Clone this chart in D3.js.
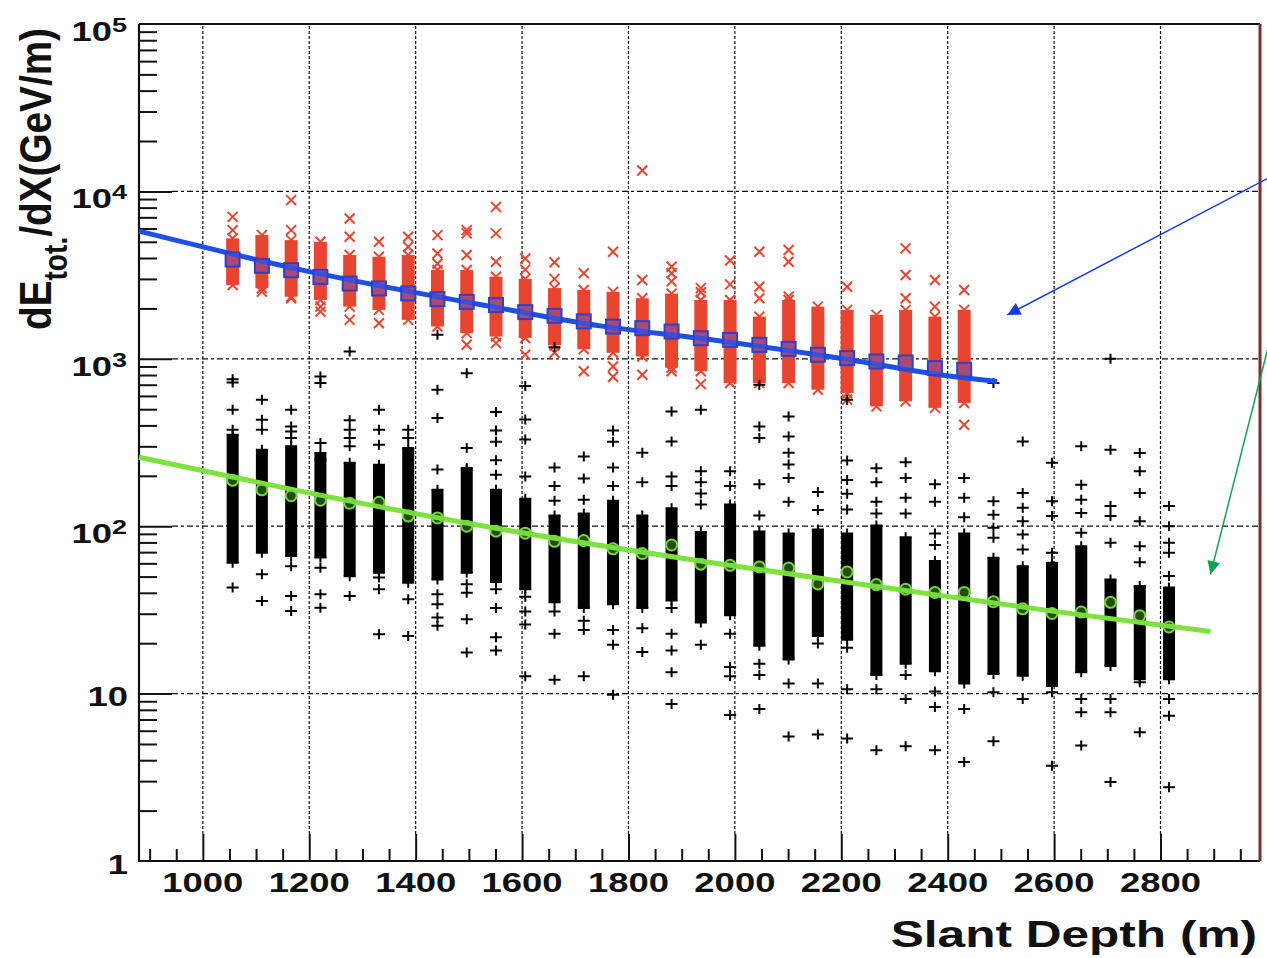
<!DOCTYPE html>
<html lang="en">
<head>
<meta charset="UTF-8">
<title>dE/dX vs Slant Depth</title>
<script src="https://d3js.org/d3.v7.min.js"></script>
<style>
  body { margin: 0; background: #fff; }
  text { font-family: "Liberation Sans", Arial, Helvetica, sans-serif; font-weight: bold; fill: #111; }
</style>
</head>
<body>
<div id="chart"></div>
<script>
// bin centres along slant depth (m)
const depths = [1056, 1111, 1166, 1221, 1276, 1331, 1386, 1441, 1496, 1551, 1606, 1661, 1716,
  1771, 1826, 1881, 1936, 1991, 2046, 2101, 2156, 2211, 2266, 2321, 2376, 2431, 2486, 2541,
  2596, 2651, 2706, 2761, 2816];

// red (x markers): dense band per bin plus stray points, GeV/m
const redLo = [2761, 2638, 2351, 2247, 2050, 1959, 1708, 1558, 1423, 1358, 1332, 1202, 1143,
  1086, 1032, 886, 843, 717, 717, 717, 654, 625, 520, 557, 509, 545];
const redHi = [5240, 5483, 5117, 5000, 4168, 4070, 4168, 3391, 3391, 3094, 3002, 2645, 2577,
  2511, 2300, 2450, 2247, 2247, 1787, 2247, 2050, 1959, 1829, 1959, 1787, 1959];
const redOut = [[7047, 5873], [2518], [8865, 5873, 2300], [2050, 1914], [6895, 5355, 1708],
  [5000, 1632], [5355, 4670], [5483, 4257, 3700], [5873, 5611, 4168, 1212], [8083, 5611, 3801, 1241],
  [3972, 3410, 1059], [3775, 3002, 1086], [3241, 843], [4359, 900, 781], [13340, 2957, 803],
  [3548, 3241, 2900, 843], [2645, 2500, 706], [3869, 2784], [4359, 2697, 2300], [4462, 3801, 2351],
  [], [2697, 570], [], [4567, 3167, 2300], [2957, 2050], [2577, 404]];
// blue squares (bin means) and fitted curve
const blueMean = [3917, 3592, 3384, 3084, 2816, 2631, 2456, 2271, 2188, 2093, 1901, 1807, 1673,
  1557, 1524, 1455, 1328, 1298, 1211, 1147, 1057, 1010, 964, 951, 880, 860];
const blueFitX = [880, 1183, 1559, 1747, 1935, 2198, 2399, 2493];
const blueFitY = [5790, 3410, 2005, 1573, 1325, 1007, 792, 732];

// black (+ markers): dense band per bin plus stray points
const blackLo = [60.5, 69.4, 66.3, 65, 50.3, 52.8, 46.0, 48.1, 52.8, 46.4, 42, 35.1, 32.5, 34.2,
  32.5, 36.0, 26.6, 29.4, 19.3, 16.0, 22.1, 21.0, 12.9, 15.1, 13.6, 11.5, 13.1, 12.8, 11.1, 13.4,
  14.6, 12.2, 12.2];
const blackHi = [352, 286, 300, 274, 239, 233, 293, 165, 218, 165, 146, 116, 119, 142, 116, 128,
  92.2, 135, 93.1, 90.6, 95.6, 90.6, 101, 85.9, 62.0, 90.6, 64.8, 57.7, 60.5, 76.0, 48.1, 43.9, 43.0];
const blackOut = [
  [756, 721, 496, 377, 43.0], [569, 432, 377, 51.6, 35.7], [496, 394, 368, 336, 57.7, 38.3, 31.1],
  [783, 716, 314, 250, 56.5, 39.2, 32.6], [1105, 430, 377, 336, 300, 38.3], [496, 377, 307, 49.3, 42.0, 22.6],
  [377, 336, 36.6, 22.1], [1390, 653, 443, 218, 39.2, 34.2, 28.5, 25.4], [821, 293, 223, 45.0, 40.1, 27.8, 17.6],
  [481, 373, 320, 248, 203, 42.0, 32.5, 21.7, 18.1], [687, 434, 329, 198, 37.9, 30.9, 25.9, 12.7],
  [1172, 224, 174, 142, 30.9, 22.8, 12.1], [261, 193, 144, 27.2, 24.0, 12.7],
  [373, 320, 224, 174, 24.0, 19.6, 9.85], [275, 183, 24.6, 17.7],
  [484, 321, 198, 174, 32.5, 22.8, 18.1, 13.4, 8.68], [496, 213, 183, 157, 135, 19.6],
  [213, 174, 22.8, 14.4, 12.7, 7.44], [699, 394, 336, 178, 116, 15.1, 12.9, 8.1],
  [452, 344, 275, 234, 194, 140, 11.5, 5.55], [160, 125, 19.9, 11.5, 5.70],
  [569, 247, 189, 156, 126, 18.8, 10.6, 5.40], [222, 183, 140, 119, 10.6, 4.59],
  [241, 194, 148, 119, 12.9, 9.27, 4.85], [178, 140, 90.6, 77.1, 10.3, 8.33, 4.59],
  [194, 148, 113, 8.1, 3.90], [716, 141, 117, 97.8, 85.3, 10.2, 5.2],
  [321, 158, 129, 107, 89.2, 72.6, 9.27], [239, 141, 115, 69.4, 10.2, 3.71],
  [300, 177, 144, 120, 91.3, 9.27, 7.73, 4.89], [1000, 286, 132, 115, 79.6, 9.27, 7.73, 2.96],
  [274, 213, 158, 107, 76.0, 60.8, 11.7, 5.87], [132, 100, 79.6, 69.4, 50.4, 9.27, 7.38, 2.76]];
// green circles (bin means) and fitted curve
const greenMean = [188, 165, 152, 143, 137, 139, 115, 112, 100, 93.4, 90.9, 81.2, 82.1, 73.3, 68.7,
  77.2, 59.3, 58.4, 57.1, 56.2, 45.2, 53.3, 44.8, 42.0, 40.2, 40.2, 35.4, 32.1, 30.1, 30.7, 35.1, 29.2, 25.0];
const greenFitX = [880, 1183, 1559, 1935, 2311, 2593, 2894];
const greenFitY = [258, 162, 96.2, 62.0, 41.7, 31.2, 23.5];

// axes
const xTicks = [1000, 1200, 1400, 1600, 1800, 2000, 2200, 2400, 2600, 2800];
const xTickLabels = ["1000", "1200", "1400", "1600", "1800", "2000", "2200", "2400", "2600", "2800"];
const yTicks = [1, 10, 100, 1000, 10000, 100000];
const yTickBase = ["1", "10", "10", "10", "10", "10"];
const yTickExp = ["", "", "2", "3", "4", "5"];

// annotation arrows: [from depth, from value, to depth, to value]
const blueArrow = [3001, 11940, 2512, 1829];
const greenArrow = [3001, 1131, 2894, 51.6];

const W = 1267, H = 958;
const padL = 139, padR = 1260, padT = 24, padB = 861;

const x = d3.scaleLinear().domain([880, 2987]).range([padL, padR]);
const y = d3.scaleLog().domain([1, 1e5]).range([padB, padT]);

const svg = d3.select('#chart').append('svg')
  .attr('width', W).attr('height', H)
  .style('display', 'block');

const defs = svg.append('defs');
[['ah-blue', '#1838ee'], ['ah-green', '#12a352']].forEach(([id, col]) => {
  defs.append('marker')
    .attr('id', id).attr('viewBox', '0 0 10 10')
    .attr('refX', 10).attr('refY', 5)
    .attr('markerWidth', 19).attr('markerHeight', 13)
    .attr('markerUnits', 'userSpaceOnUse').attr('orient', 'auto')
    .append('path').attr('d', 'M0,0L10,5L0,10z').attr('fill', col);
});

// grid
const grid = svg.append('g').attr('stroke', '#111').attr('stroke-width', 1.2).attr('fill', 'none');
grid.selectAll('.vg').data(xTicks).enter().append('line')
  .attr('x1', d => x(d)).attr('x2', d => x(d))
  .attr('y1', padB - 27).attr('y2', padT)
  .attr('stroke-dasharray', '3,2');
grid.selectAll('.hg').data(yTicks.slice(1, 5)).enter().append('line')
  .attr('x1', padL + 33).attr('x2', padR)
  .attr('y1', d => y(d)).attr('y2', d => y(d))
  .attr('stroke-dasharray', '6,3,3,3');

// axes ticks
const yMinor = [];
[1, 10, 100, 1000, 10000].forEach(d => { for (let m = 2; m <= 9; m++) yMinor.push(d * m); });
const xMinor = d3.range(900, 2951, 50).filter(v => v % 200 !== 0);

function styleAxis(g) {
  g.select('.domain').remove();
  g.selectAll('line').attr('stroke', '#111').attr('stroke-width', 2);
}
svg.append('g').attr('transform', `translate(${padL},0)`)
  .call(d3.axisRight(y).tickValues(yTicks.slice(1, 5)).tickSize(33).tickSizeOuter(0).tickFormat(''))
  .call(styleAxis);
svg.append('g').attr('transform', `translate(${padL},0)`)
  .call(d3.axisRight(y).tickValues(yMinor).tickSize(18).tickSizeOuter(0).tickFormat(''))
  .call(styleAxis);
svg.append('g').attr('transform', `translate(0,${padB})`)
  .call(d3.axisTop(x).tickValues(xTicks).tickSize(27).tickSizeOuter(0).tickFormat(''))
  .call(styleAxis);
svg.append('g').attr('transform', `translate(0,${padB})`)
  .call(d3.axisTop(x).tickValues(xMinor).tickSize(12).tickSizeOuter(0).tickFormat(''))
  .call(styleAxis);

// frame
svg.append('line').attr('x1', padL).attr('x2', padL).attr('y1', padT).attr('y2', padB + 1)
  .attr('stroke', '#111').attr('stroke-width', 2.2);
svg.append('line').attr('x1', padL).attr('x2', padR).attr('y1', padB).attr('y2', padB)
  .attr('stroke', '#111').attr('stroke-width', 2.2);
svg.append('line').attr('x1', padL).attr('x2', padR).attr('y1', padT).attr('y2', padT)
  .attr('stroke', '#111').attr('stroke-width', 2);
svg.append('line').attr('x1', padR).attr('x2', padR).attr('y1', padT).attr('y2', padB)
  .attr('stroke', '#7a2f2f').attr('stroke-width', 3);

// markers
const crossPath = 'M-5,-5L5,5M-5,5L5,-5';
const plusPath = 'M-6,0H6M0,-5V5';
const red = '#e84530';

const redG = svg.append('g');
redLo.forEach((lo, i) => {
  const cx = x(depths[i]);
  redG.append('rect')
    .attr('x', cx - 6.5).attr('width', 13)
    .attr('y', y(redHi[i])).attr('height', y(lo) - y(redHi[i]))
    .attr('fill', red);
  [lo, redHi[i]].concat(redOut[i]).forEach(v => {
    redG.append('path').attr('d', crossPath)
      .attr('transform', `translate(${cx},${y(v)})`)
      .attr('stroke', red).attr('stroke-width', 2).attr('fill', 'none');
  });
});

const blackG = svg.append('g');
blackLo.forEach((lo, i) => {
  const cx = x(depths[i]);
  blackG.append('rect')
    .attr('x', cx - 6).attr('width', 12)
    .attr('y', y(blackHi[i])).attr('height', y(lo) - y(blackHi[i]))
    .attr('fill', '#000');
  [lo, blackHi[i]].concat(blackOut[i]).forEach(v => {
    blackG.append('path').attr('d', plusPath)
      .attr('transform', `translate(${cx},${y(v)})`)
      .attr('stroke', '#000').attr('stroke-width', 2).attr('fill', 'none');
  });
});

// fit curves
const fitLine = d3.line().x(d => x(d[0])).y(d => y(d[1])).curve(d3.curveMonotoneX);
svg.append('path').datum(d3.zip(greenFitX, greenFitY))
  .attr('d', fitLine).attr('fill', 'none')
  .attr('stroke', '#7ee23e').attr('stroke-width', 5).attr('stroke-linecap', 'butt');
svg.append('g').selectAll('circle').data(greenMean).enter().append('circle')
  .attr('cx', (d, i) => x(depths[i])).attr('cy', d => y(d)).attr('r', 5.5)
  .attr('fill', 'rgba(110,210,60,0.35)').attr('stroke', '#6fd93c').attr('stroke-width', 2);

svg.append('path').datum(d3.zip(blueFitX, blueFitY))
  .attr('d', fitLine).attr('fill', 'none')
  .attr('stroke', '#1e50e6').attr('stroke-width', 5);
svg.append('g').selectAll('rect').data(blueMean).enter().append('rect')
  .attr('x', (d, i) => x(depths[i]) - 7).attr('y', d => y(d) - 7)
  .attr('width', 14).attr('height', 14)
  .attr('fill', 'rgba(90,80,200,0.45)').attr('stroke', '#2f3fc8').attr('stroke-width', 2);

// annotation arrows
[[blueArrow, '#1838ee', 'ah-blue'], [greenArrow, '#12a352', 'ah-green']].forEach(([a, col, id]) => {
  svg.append('line')
    .attr('x1', x(a[0])).attr('y1', y(a[1]))
    .attr('x2', x(a[2])).attr('y2', y(a[3]))
    .attr('stroke', col).attr('stroke-width', 1.5)
    .attr('marker-end', `url(#${id})`);
});

// tick labels (the picture is stretched horizontally)
const sx = 1.35;
xTicks.forEach((v, i) => {
  svg.append('text')
    .attr('transform', `translate(${x(v)},892) scale(${sx},1)`)
    .attr('text-anchor', 'middle').attr('font-size', 27)
    .text(xTickLabels[i]);
});
yTicks.forEach((v, i) => {
  const t = svg.append('text')
    .attr('text-anchor', 'end').attr('font-size', 27);
  if (yTickExp[i]) {
    t.attr('transform', `translate(127,${y(v) + 17}) scale(${sx},1)`);
    t.append('tspan').text(yTickBase[i]);
    t.append('tspan').attr('font-size', 20).attr('dy', -9).text(yTickExp[i]);
  } else {
    t.attr('transform', `translate(128,${y(v) + 12.5}) scale(${sx},1)`);
    t.text(yTickBase[i]);
  }
});

// axis titles
svg.append('text')
  .attr('transform', `translate(1257,947) scale(1.34,1)`)
  .attr('text-anchor', 'end').attr('font-size', 37)
  .text('Slant Depth (m)');

const yt = svg.append('text')
  .attr('transform', 'translate(51,179) scale(1.35,1) rotate(-90)')
  .attr('text-anchor', 'middle').attr('font-size', 33)
  .attr('textLength', 302).attr('lengthAdjust', 'spacingAndGlyphs');
yt.append('tspan').text('dE');
yt.append('tspan').attr('font-size', 24).attr('dy', 12).text('tot.');
yt.append('tspan').attr('dy', -12).text('/dX(GeV/m)');
</script>
</body>
</html>
